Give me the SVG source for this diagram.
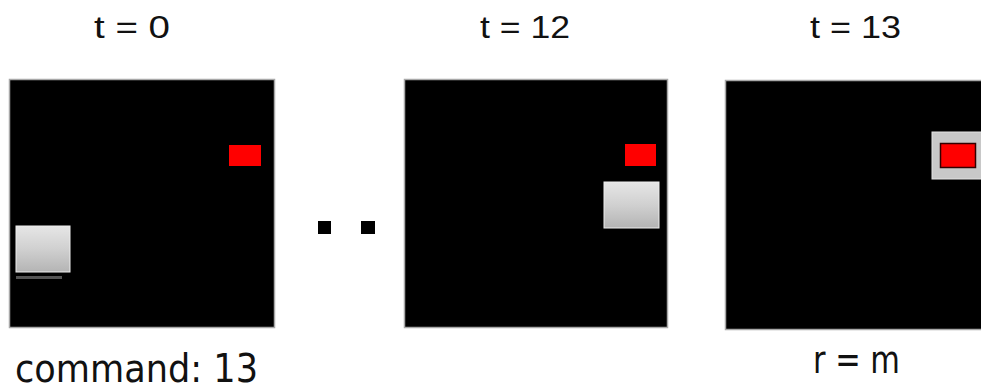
<svg xmlns="http://www.w3.org/2000/svg" width="981" height="391" viewBox="0 0 981 391">
<defs>
<linearGradient id="gs" x1="0" y1="0" x2="0" y2="1">
<stop offset="0" stop-color="#e6e6e6"/>
<stop offset="0.5" stop-color="#d0d0d0"/>
<stop offset="1" stop-color="#b4b4b4"/>
</linearGradient>
<style>
.panel{fill:#000;stroke:#a8a8a8;stroke-width:1.5}
.lbl{font-family:"Liberation Sans",Arial,sans-serif;font-size:31px;fill:#111;text-anchor:start}
.cap{font-family:"DejaVu Sans","Liberation Sans",sans-serif;font-size:39px;fill:#111;text-anchor:start}
.red{fill:#ff0000}
.box{fill:url(#gs);stroke:#eeeeee;stroke-width:1}
</style>
</defs>
<rect width="981" height="391" fill="#fff"/>
<g id="frame0">
<text class="lbl" x="94" y="38" textLength="76" lengthAdjust="spacingAndGlyphs">t = 0</text>
<rect class="panel" x="9.5" y="79.5" width="265" height="248"/>
<rect class="red" x="229" y="145" width="32" height="21"/>
<rect x="16" y="276" width="46" height="3" fill="#555"/>
<rect class="box" x="16" y="226" width="54" height="46"/>
<text class="cap" x="15" y="382" textLength="243" lengthAdjust="spacingAndGlyphs">command: 13</text>
</g>
<g id="dots">
<rect x="318" y="221" width="13" height="13" fill="#000"/>
<rect x="361" y="221" width="14" height="13" fill="#000"/>
</g>
<g id="frame12">
<text class="lbl" x="480" y="38" textLength="90" lengthAdjust="spacingAndGlyphs">t = 12</text>
<rect class="panel" x="404.5" y="79.5" width="263" height="248"/>
<rect class="red" x="625" y="144" width="31" height="22"/>
<rect class="box" x="604" y="182" width="55" height="46"/>
</g>
<g id="frame13">
<text class="lbl" x="810" y="38" textLength="91" lengthAdjust="spacingAndGlyphs">t = 13</text>
<rect class="panel" x="725.5" y="80.5" width="265" height="249"/>
<rect x="932" y="132" width="60" height="47" fill="#c8c8c8" stroke="#e4e4e4" stroke-width="1"/>
<rect x="940.5" y="143.5" width="35" height="24" fill="#ff0000" stroke="#300" stroke-width="1.5"/>
<text class="cap" x="813" y="373" textLength="87" lengthAdjust="spacingAndGlyphs">r = m</text>
</g>
</svg>
